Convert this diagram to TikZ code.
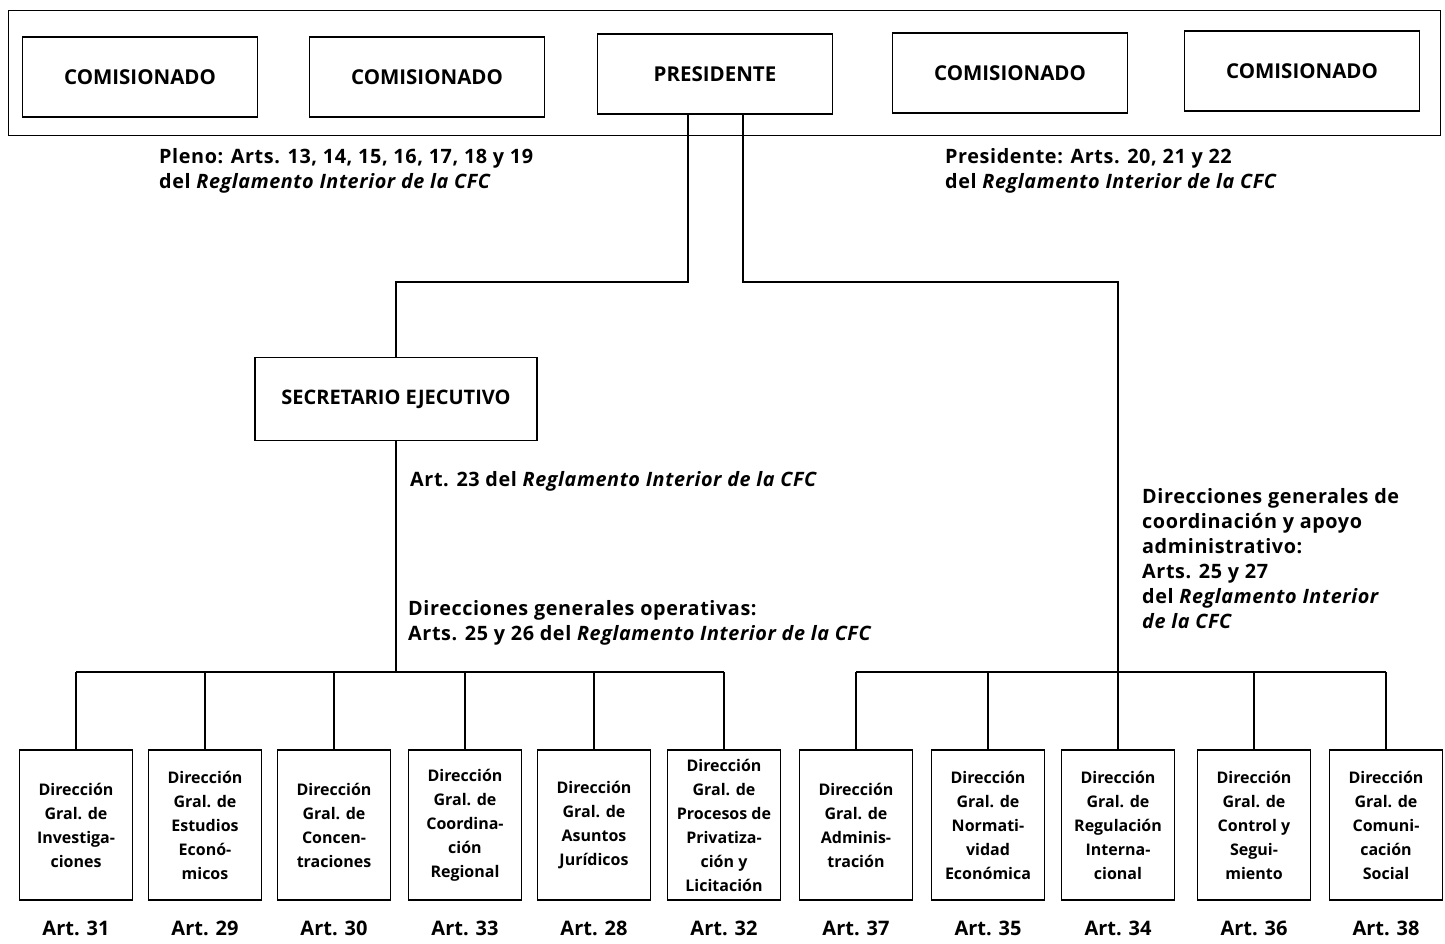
\documentclass[tikz,border=0pt]{standalone}
\usepackage{fontspec}
\setmainfont{Open Sans}
\newfontfamily\notefont[LetterSpace=3]{Open Sans}
\begin{document}
\begin{tikzpicture}[x=1pt,y=-1pt,
  topbox/.style={draw, line width=1.5pt, minimum width=235pt, minimum height=80pt, inner sep=0pt, font=\fontsize{20.5}{22}\selectfont\bfseries},
  dirbox/.style={draw, line width=1.5pt, minimum width=113pt, minimum height=150pt, inner sep=0pt, align=center, font=\fontsize{16}{24}\selectfont\bfseries},
  artlab/.style={font=\fontsize{20}{22}\selectfont\bfseries},
  note/.style={anchor=north west, align=left, inner sep=0pt, font=\notefont\fontsize{19.8}{25}\selectfont\bfseries},
  conn/.style={line width=1.3pt}]
\useasboundingbox (0,0) rectangle (1445,943);
% frame
\node[draw, line width=0.9pt, minimum width=1432pt, minimum height=125pt, inner sep=0pt] (frame) at (724,72.5) {};
% top boxes
\node[topbox] (c1) at (140,77) {COMISIONADO};
\node[topbox] (c2) at (427,77) {COMISIONADO};
\node[topbox] (pres) at (715,74) {PRESIDENTE};
\node[topbox] (c3) at (1010,73) {COMISIONADO};
\node[topbox] (c4) at (1302,71) {COMISIONADO};
% notes
\node[note] (n1) at (159,148) {Pleno: Arts. 13, 14, 15, 16, 17, 18 y 19\\del \textit{Reglamento Interior de la CFC}};
\node[note] (n2) at (945,148) {Presidente: Arts. 20, 21 y 22\\del \textit{Reglamento Interior de la CFC}};
% secretary
\node[draw, line width=1.5pt, minimum width=282pt, minimum height=83pt, inner sep=0pt, font=\fontsize{20}{22}\selectfont\bfseries] (sec) at (396,399) {SECRETARIO EJECUTIVO};
\node[note] (n3) at (410,471) {Art. 23 del \textit{Reglamento Interior de la CFC}};
\node[note] (n4) at (408,600) {Direcciones generales operativas:\\Arts. 25 y 26 del \textit{Reglamento Interior de la CFC}};
\node[note] (n5) at (1142,488) {Direcciones generales de\\coordinación y apoyo\\administrativo:\\Arts. 25 y 27\\del \textit{Reglamento Interior}\\\textit{de la CFC}};
% bottom boxes
\node[dirbox] (d1) at (76,825) {Dirección\\Gral. de\\Investiga-\\ciones};
\node[dirbox] (d2) at (205,825) {Dirección\\Gral. de\\Estudios\\Econó-\\micos};
\node[dirbox] (d3) at (334,825) {Dirección\\Gral. de\\Concen-\\traciones};
\node[dirbox] (d4) at (465,825) {Dirección\\Gral. de\\Coordina-\\ción\\Regional};
\node[dirbox] (d5) at (594,825) {Dirección\\Gral. de\\Asuntos\\Jurídicos};
\node[dirbox] (d6) at (724,825) {Dirección\\Gral. de\\Procesos de\\Privatiza-\\ción y\\Licitación};
\node[dirbox] (d7) at (856,825) {Dirección\\Gral. de\\Adminis-\\tración};
\node[dirbox] (d8) at (988,825) {Dirección\\Gral. de\\Normati-\\vidad\\Económica};
\node[dirbox] (d9) at (1118,825) {Dirección\\Gral. de\\Regulación\\Interna-\\cional};
\node[dirbox] (d10) at (1254,825) {Dirección\\Gral. de\\Control y\\Segui-\\miento};
\node[dirbox] (d11) at (1386,825) {Dirección\\Gral. de\\Comuni-\\cación\\Social};
% art labels
\foreach \i/\a in {1/31,2/29,3/30,4/33,5/28,6/32,7/37,8/35,9/34,10/36,11/38}
  \node[artlab] (a\i) at ([yshift=-28pt]d\i.south) {Art. \a};
% connectors
\coordinate (pl) at (688,282);
\coordinate (pr) at (743,282);
\coordinate (bus) at (0,672);
\coordinate (rb) at (1118,672);
\draw[conn] (pres.south -| pl) -- (pl) -- (pl -| sec) -- (sec.north);
\draw[conn] (pres.south -| pr) -- (pr) -- (pr -| rb) -- (rb);
\draw[conn] (sec.south) -- (sec.south |- bus);
\draw[conn] (d1.north |- bus) -- (d6.north |- bus);
\draw[conn] (d7.north |- bus) -- (d11.north |- bus);
\foreach \i in {1,...,11}
  \draw[conn] (d\i.north) -- (d\i.north |- bus);
\end{tikzpicture}
\end{document}
